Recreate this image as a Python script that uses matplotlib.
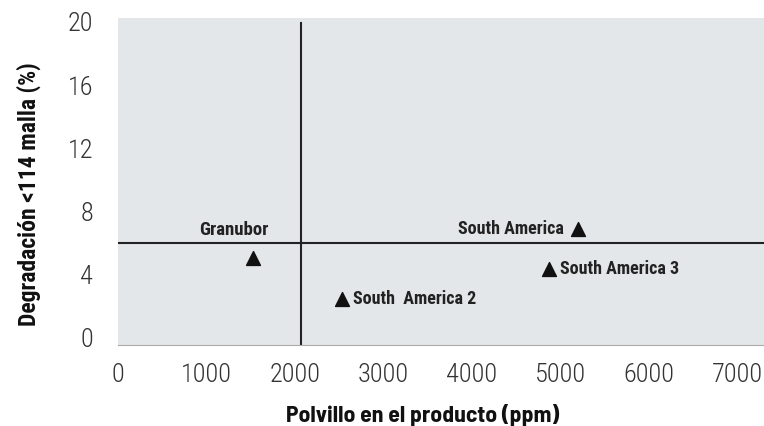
import matplotlib.pyplot as plt

# data
names = ['Granubor', 'South America', 'South America 3', 'South  America 2']
polvillo = [1530, 5200, 4870, 2530]
degradacion = [5.05, 6.9, 4.35, 2.45]
label_side = ['above', 'left', 'right', 'right']

x_ticks = [0, 1000, 2000, 3000, 4000, 5000, 6000, 7000]
y_ticks = [0, 4, 8, 12, 16, 20]
x_ref = 2070
y_ref = 6

plt.rcParams['font.family'] = ['Roboto Condensed', 'DejaVu Sans']

fig = plt.figure(figsize=(7.64, 4.26), dpi=100)
ax = fig.add_axes([0.1545, 0.19, 0.8455, 0.768])
ax.set_facecolor('#e3e7e9')

ax.set_xlim(0, 7300)
ax.set_ylim(-0.45, 20.25)

# reference lines
ax.axvline(x_ref, color='#222222', lw=1.5, ymax=0.985)
ax.axhline(y_ref, color='#222222', lw=1.5)

ax.scatter(polvillo, degradacion, marker='^', s=100, color='#111111', zorder=3)

for n, x, y, side in zip(names, polvillo, degradacion, label_side):
    if side == 'above':
        ax.annotate(n, (x, y), xytext=(-14, 14), textcoords='offset points',
                    ha='center', va='bottom', fontsize=13.5, fontweight='bold', color='#222222')
    elif side == 'left':
        ax.annotate(n, (x, y), xytext=(-10, 0), textcoords='offset points',
                    ha='right', va='center', fontsize=13, fontweight='bold', color='#222222')
    else:
        ax.annotate(n, (x, y), xytext=(8, 0), textcoords='offset points',
                    ha='left', va='center', fontsize=13, fontweight='bold', color='#222222')

ax.set_xticks(x_ticks)
ax.set_yticks(y_ticks)
ax.tick_params(axis='both', length=0, labelsize=19, colors='#333333')
for lbl in ax.get_xticklabels() + ax.get_yticklabels():
    lbl.set_fontweight('light')
ax.tick_params(axis='x', pad=13)
ax.tick_params(axis='y', pad=18)

for s in ['top', 'right', 'left']:
    ax.spines[s].set_visible(False)
ax.spines['bottom'].set_color('#aaaaaa')

ax.set_xlabel('Polvillo en el producto (ppm)', fontsize=17, fontweight='bold',
              family=['Barlow Semi Condensed', 'DejaVu Sans'], color='#111111')
ax.xaxis.set_label_coords(0.471, -0.18)
ax.set_ylabel('Degradación <114 malla (%)', fontsize=17, fontweight='bold', color='#111111')
ax.yaxis.set_label_coords(-0.12, 0.462)

fig.savefig('out.png', dpi=100)
